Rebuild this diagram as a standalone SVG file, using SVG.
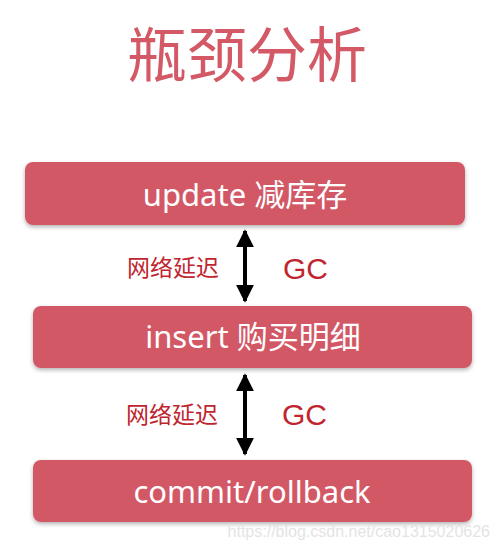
<svg xmlns="http://www.w3.org/2000/svg" width="501" height="550" viewBox="0 0 501 550">
<defs>
<filter id="sh" x="-5%" y="-20%" width="110%" height="150%">
<feDropShadow dx="0" dy="2" stdDeviation="2" flood-color="#000" flood-opacity="0.3"/>
</filter>
<marker id="ah" viewBox="0 0 10 10" refX="9" refY="5" markerWidth="4.5" markerHeight="4.5" orient="auto-start-reverse" markerUnits="strokeWidth">
<path d="M0,0 L10,5 L0,10 z" fill="#000"/>
</marker>
</defs>
<style>
.box{fill:#d35966;filter:url(#sh)}
.bt{fill:#fff;font-family:"Noto Sans","Noto Sans CJK SC",sans-serif;font-size:31px;text-anchor:middle}
.lb{fill:#c0252f;font-family:"Noto Sans CJK SC",sans-serif;font-size:23px}
.gc{fill:#c0252f;font-family:"Liberation Sans",Arial,sans-serif;font-size:30px}
.ar{stroke:#000;stroke-width:4;fill:none;marker-start:url(#ah);marker-end:url(#ah)}
</style>
<rect width="501" height="550" fill="#fff"/>
<text x="247" y="77" fill="#d35966" font-family="Noto Sans CJK SC,sans-serif" font-size="60" text-anchor="middle">瓶颈分析</text>
<g id="connectors">
<line class="ar" x1="245" y1="231" x2="245" y2="301"/>
<line class="ar" x1="245" y1="375" x2="245" y2="454"/>
</g>
<g id="n1"><rect class="box" x="25" y="162" width="440" height="63" rx="8"/><text class="bt" x="245" y="206">update 减库存</text></g>
<g id="n2"><rect class="box" x="33" y="306" width="439" height="62" rx="8"/><text class="bt" x="253" y="348">insert 购买明细</text></g>
<g id="n3"><rect class="box" x="33" y="460" width="439" height="62" rx="8"/><text class="bt" x="252" y="503" font-size="33">commit/rollback</text></g>
<g id="l1"><text class="lb" x="127" y="276">网络延迟</text><text class="gc" x="283" y="279">GC</text></g>
<g id="l2"><text class="lb" x="126" y="423">网络延迟</text><text class="gc" x="282" y="425">GC</text></g>
<text x="490" y="537" fill="#e4e4e4" font-family="Liberation Sans,Arial,sans-serif" font-size="16" text-anchor="end">https://blog.csdn.net/cao1315020626</text>
</svg>
